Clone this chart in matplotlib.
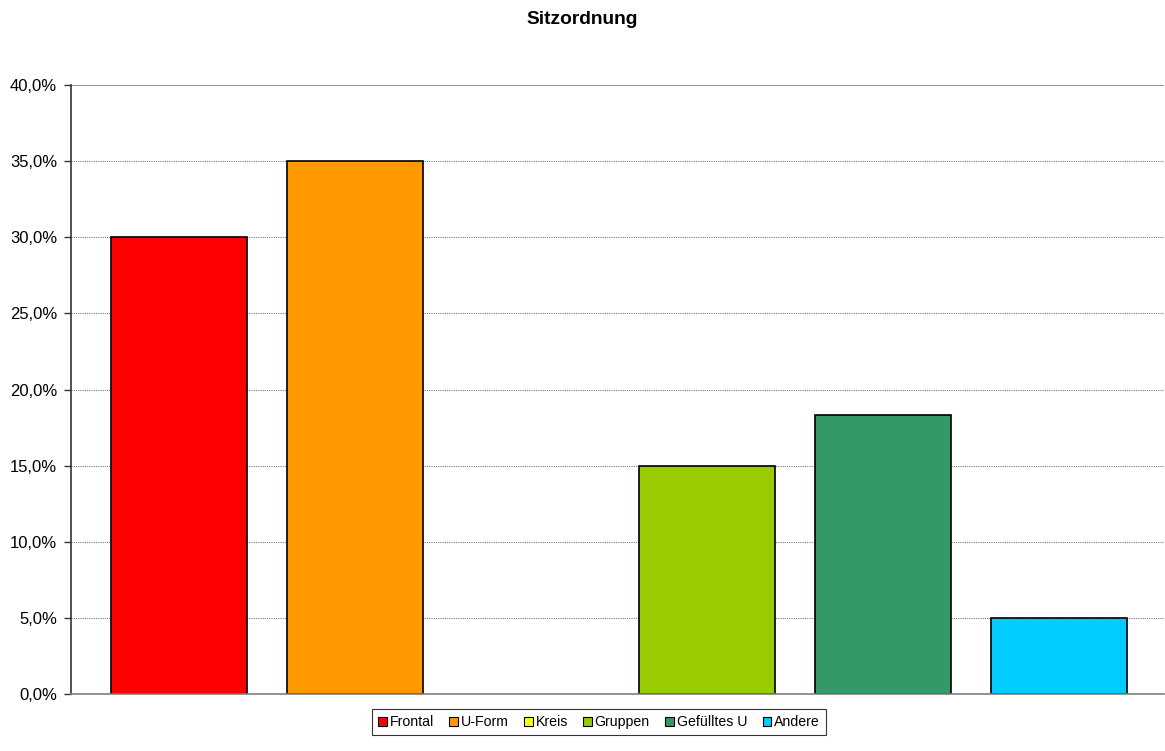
import matplotlib
matplotlib.use("Agg")
import matplotlib.pyplot as plt
from matplotlib.ticker import FuncFormatter
from matplotlib.patches import Patch

plt.rcParams['font.family'] = ['Liberation Sans', 'DejaVu Sans']

categories = ["Frontal", "U-Form", "Kreis", "Gruppen", "Gefülltes U", "Andere"]
values = [30.0, 35.0, 0.0, 15.0, 18.3, 5.0]
colors = ["#FF0000", "#FF9900", "#FFFF00", "#99CC00", "#339966", "#00CCFF"]
yticks = [0, 5, 10, 15, 20, 25, 30, 35, 40]

fig = plt.figure(figsize=(11.65, 7.51), dpi=100)
ax = fig.add_axes([71 / 1165, 1 - 694 / 751, (1164 - 71) / 1165, (694 - 85) / 751])

x = list(range(len(categories)))
ax.bar(x, values, width=0.773, color=colors, edgecolor="black",
       linewidth=[1.2 if v > 0 else 0 for v in values], zorder=3)

ax.set_xlim(-0.614, 5.597)
ax.set_ylim(0, 40)
ax.set_yticks(yticks)
ax.yaxis.set_major_formatter(FuncFormatter(lambda v, p: f"{v:.1f}%".replace(".", ",")))
ax.set_xticks([])
ax.tick_params(axis="y", length=5, width=1, color="#333333", labelsize=12, pad=5)

for t in yticks[1:-1]:
    ax.axhline(t, color="#808080", lw=0.8, ls=(0, (1, 1)), zorder=1)
ax.axhline(40, color="#808080", lw=1.2, zorder=1)

ax.spines["top"].set_visible(False)
ax.spines["right"].set_visible(False)
ax.spines["left"].set_color("#333333")
ax.spines["left"].set_linewidth(1.2)
ax.spines["bottom"].set_color("#808080")
ax.spines["bottom"].set_linewidth(1.2)
ax.spines["bottom"].set_zorder(4)

fig.text(0.5, 1 - 19 / 751, "Sitzordnung", ha="center", va="center", fontsize=13.8, fontweight="bold")

handles = [Patch(facecolor=c, edgecolor="black", linewidth=0.8) for c in colors]
leg = fig.legend(handles, categories, loc="center", bbox_to_anchor=(599 / 1165, 1 - 722 / 751),
                 ncol=6, fontsize=10.2, frameon=True, fancybox=False, edgecolor="black",
                 handlelength=0.6, handleheight=0.6, handletextpad=0.2, columnspacing=1.1,
                 borderpad=0.45)
leg.get_frame().set_linewidth(0.8)

fig.savefig("out.png", dpi=100)
